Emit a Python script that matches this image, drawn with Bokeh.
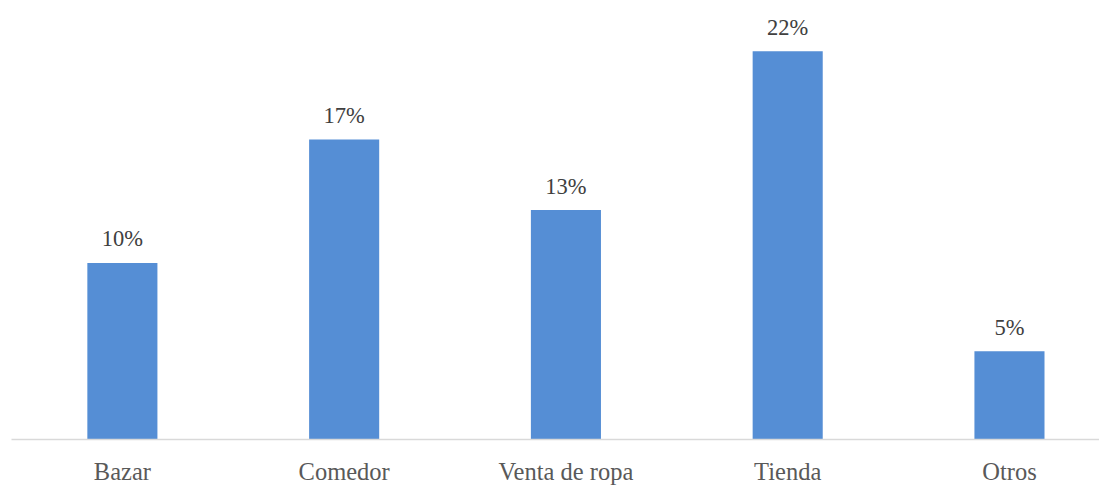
from bokeh.plotting import figure
from bokeh.models import ColumnDataSource, FixedTicker, Range1d
from bokeh.core.properties import value
from bokeh.embed import file_html
from bokeh.resources import INLINE

categories = ["Bazar", "Comedor", "Venta de ropa", "Tienda", "Otros"]
values = [10, 17, 13, 22, 5]
labels = ["10%", "17%", "13%", "22%", "5%"]

xs = list(range(len(categories)))
src = ColumnDataSource(dict(x=xs, top=values, lab=labels))

p = figure(width=1099, height=487, output_backend="svg", toolbar_location=None,
           x_range=Range1d(-0.5, 4.406), y_range=Range1d(0, 24.87),
           min_border_left=11, min_border_right=0, min_border_top=0,
           min_border_bottom=30)
p.outline_line_color = None
p.background_fill_color = "white"
p.border_fill_color = "white"
p.xgrid.visible = False
p.ygrid.visible = False
p.yaxis.visible = False

p.vbar(x="x", top="top", width=0.316, source=src, fill_color="#558ED5",
       line_color=None)
p.text(x="x", y="top", text="lab", source=src, text_align="center",
       text_baseline="alphabetic", y_offset=-24, text_font=value("Liberation Serif"),
       text_font_size="22.5px", text_color="#404040")

ax = p.xaxis[0]
ax.ticker = FixedTicker(ticks=xs)
ax.major_label_overrides = {i: c for i, c in enumerate(categories)}
ax.major_tick_line_color = None
ax.minor_tick_line_color = None
ax.axis_line_color = "#d9d9d9"
ax.axis_line_width = 1.5
ax.major_label_text_font = "Liberation Serif"
ax.major_label_text_font_size = "24.5px"
ax.major_label_text_color = "#595959"
ax.major_label_standoff = 12

open("out.html", "w").write(file_html(p, INLINE))
